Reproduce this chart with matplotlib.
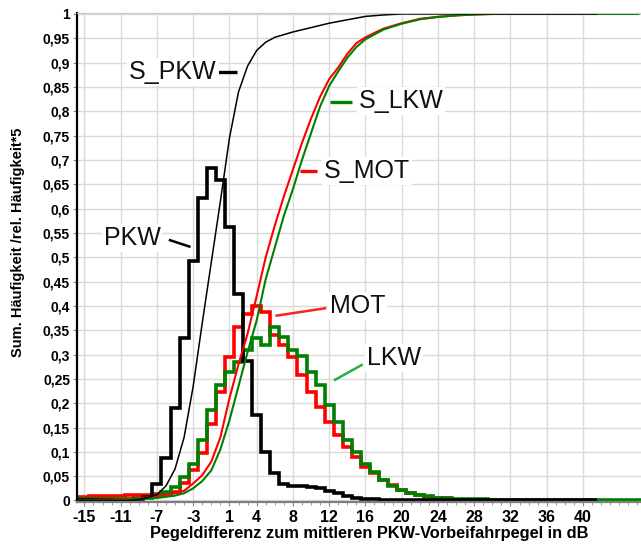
import numpy as np
import matplotlib
matplotlib.use('Agg')
import matplotlib.pyplot as plt

plt.rcParams['font.family'] = ['Liberation Sans', 'DejaVu Sans']

# ------------------------------------------------------------
# Daten
# ------------------------------------------------------------
# Klassenmitten in dB (Klassenbreite 1 dB)
bins_pkw = np.arange(-16, 42)
bins_mot = np.arange(-16, 26)
bins_lkw = np.arange(-16, 47)

# rel. Häufigkeit * 5
h_pkw = [0.0, 0.0, 0.0, 0.0, 0.0, 0.001, 0.002, 0.004, 0.008, 0.034,
         0.088, 0.19, 0.334, 0.492, 0.622, 0.684, 0.658, 0.562, 0.425, 0.286,
         0.176, 0.10, 0.056, 0.033, 0.030, 0.029, 0.028, 0.025, 0.020, 0.015,
         0.010, 0.006, 0.004, 0.003, 0.002, 0.002, 0.001, 0.001, 0.0, 0.0,
         0.0, 0.0, 0.0, 0.0, 0.0, 0.0, 0.0, 0.0, 0.0, 0.0,
         0.0, 0.0, 0.0, 0.0, 0.0, 0.0, 0.0, 0.0]
h_mot = [0.008, 0.008, 0.009, 0.009, 0.010, 0.010, 0.011, 0.012, 0.012, 0.013,
         0.014, 0.018, 0.035, 0.063, 0.097, 0.158, 0.224, 0.295, 0.357, 0.383,
         0.40, 0.388, 0.34, 0.32, 0.295, 0.258, 0.223, 0.193, 0.162, 0.134,
         0.11, 0.09, 0.069, 0.056, 0.043, 0.032, 0.022, 0.016, 0.011, 0.008,
         0.006, 0.005]
h_lkw = [0.004, 0.004, 0.004, 0.004, 0.004, 0.004, 0.004, 0.005, 0.006, 0.010,
         0.018, 0.027, 0.049, 0.076, 0.124, 0.186, 0.237, 0.265, 0.285, 0.31,
         0.333, 0.319, 0.357, 0.336, 0.31, 0.297, 0.265, 0.237, 0.196, 0.162,
         0.124, 0.10, 0.076, 0.059, 0.042, 0.030, 0.022, 0.015, 0.011, 0.009,
         0.006, 0.005, 0.004, 0.004, 0.003, 0.003, 0.002, 0.002, 0.002, 0.001,
         0.001, 0.001, 0.001, 0.0, 0.0, 0.0, 0.0, 0.0, 0.0, 0.0,
         0.0, 0.0, 0.0]

# Summenhäufigkeiten
s_pkw_x = [-16, -10, -9, -8, -7, -6, -5, -4, -3, -2, -1, 0, 1, 2, 3, 4, 5, 6,
           8, 10, 12, 14, 16, 18, 20, 41.5]
s_pkw_y = [0.0, 0.0, 0.002, 0.006, 0.012, 0.03, 0.065, 0.13, 0.235, 0.365,
           0.49, 0.615, 0.745, 0.84, 0.893, 0.925, 0.942, 0.952, 0.963, 0.972,
           0.981, 0.988, 0.995, 0.998, 1.0, 1.0]
s_mot_x = [-16, -12, -9, -7, -5, -4, -3, -2, -1, 0, 1, 2, 3, 4, 5, 6, 7, 8, 9,
           10, 11, 12, 13, 14, 15, 16, 18, 20, 22, 24, 26, 28, 30, 41.5]
s_mot_y = [0.0, 0.002, 0.005, 0.008, 0.015, 0.02, 0.035, 0.052, 0.08, 0.13,
           0.21, 0.28, 0.343, 0.42, 0.50, 0.565, 0.625, 0.68, 0.735, 0.785,
           0.83, 0.866, 0.89, 0.918, 0.94, 0.952, 0.97, 0.981, 0.99, 0.994,
           0.997, 0.999, 1.0, 1.0]
s_lkw_x = [-16, -12, -9, -7, -5, -4, -3, -2, -1, 0, 1, 2, 3, 4, 5, 6, 7, 8, 9,
           10, 11, 12, 13, 14, 15, 16, 18, 20, 22, 24, 26, 28, 30, 46.1]
s_lkw_y = [0.0, 0.001, 0.003, 0.005, 0.01, 0.015, 0.025, 0.04, 0.062, 0.105,
           0.165, 0.235, 0.305, 0.37, 0.455, 0.52, 0.585, 0.64, 0.70, 0.755,
           0.81, 0.852, 0.882, 0.91, 0.932, 0.948, 0.968, 0.98, 0.989, 0.994,
           0.997, 0.999, 1.0, 1.0]

xticks = [-15, -11, -7, -3, 1, 4, 8, 12, 16, 20, 24, 28, 32, 36, 40]
yticks = np.round(np.arange(0, 1.0001, 0.05), 2)


def kanten(mitten):
    return np.append(mitten - 0.5, mitten[-1] + 0.5)


def komma(v):
    if v in (0, 1):
        return str(int(v))
    return f'{v:g}'.replace('.', ',')


# ------------------------------------------------------------
# Grafik
# ------------------------------------------------------------
fig = plt.figure(figsize=(6.41, 5.44), dpi=100)
ax = fig.add_axes([0.1201, 0.0773, 0.8799, 0.8997])

ax.set_xlim(-15.82, 46.4)
ax.set_ylim(-0.003, 1.003)

ax.set_xticks(xticks)
ax.set_xticklabels([str(t) for t in xticks])
ax.set_xticks(np.arange(-15, 47), minor=True)
ax.set_yticks(yticks)
ax.set_yticklabels([komma(v) for v in yticks])
ax.grid(True, which='major', color='#dadada', lw=1)
ax.set_axisbelow(True)

ax.tick_params(axis='x', which='major', labelsize=11.5, length=3, color='#888888', pad=3)
ax.tick_params(axis='x', which='minor', length=2, color='#888888')
ax.tick_params(axis='y', labelsize=10, length=3, color='#888888', pad=2)
for lab in ax.get_xticklabels() + ax.get_yticklabels():
    lab.set_fontweight('bold')

ax.spines['right'].set_visible(False)
ax.spines['top'].set_color('#c8c8c8')
ax.spines['left'].set_color('black')
ax.spines['left'].set_linewidth(1.6)
ax.spines['bottom'].set_color('#7f7f7f')
ax.spines['bottom'].set_linewidth(1.6)

# Histogramme
ax.stairs(h_mot, kanten(bins_mot), color='#ff0000', lw=2.6, baseline=None)
ax.stairs(h_lkw, kanten(bins_lkw), color='#008000', lw=2.6, baseline=None)
ax.stairs(h_pkw, kanten(bins_pkw), color='black', lw=2.6, baseline=None)

# Summenkurven
ax.plot(s_mot_x, s_mot_y, color='#ff0000', lw=1.5)
ax.plot(s_lkw_x, s_lkw_y, color='#008000', lw=1.5)
ax.plot(s_pkw_x, s_pkw_y, color='black', lw=1.1)

ax.set_xlabel('Pegeldifferenz zum mittleren PKW-Vorbeifahrpegel in dB',
              fontsize=11.8, fontweight='bold')
ax.set_ylabel('Sum. Häufigkeit /rel. Häufigkeit*5', fontsize=10.5, fontweight='bold')
ax.xaxis.set_label_coords(0.519, -0.049)
ax.yaxis.set_label_coords(-0.092, 0.531)

# Beschriftungen mit Hinweislinien
box = dict(facecolor='white', edgecolor='none', pad=1.5)
lab_style = dict(fontsize=18, ha='center', va='center', bbox=box, color='#111111')

ax.text(-5.23, 0.880, 'S_PKW', **lab_style)
ax.plot([-0.38, 1.83], [0.881, 0.881], color='black', lw=2.4, solid_capstyle='butt')

ax.text(-9.75, 0.540, 'PKW', **lab_style)
ax.plot([-5.56, -3.43], [0.535, 0.522], color='black', lw=1.8)

ax.text(19.92, 0.821, 'S_LKW', **lab_style)
ax.plot([12.09, 14.48], [0.820, 0.820], color='#008000', lw=2.4, solid_capstyle='butt')

ax.text(16.17, 0.677, 'S_MOT', **lab_style)
ax.plot([8.78, 10.62], [0.678, 0.678], color='#ff0000', lw=2.4, solid_capstyle='butt')

ax.text(15.12, 0.400, 'MOT', **lab_style)
ax.plot([6.21, 11.54], [0.380, 0.395], color='#ff2020', lw=1.8)

ax.text(19.15, 0.293, 'LKW', **lab_style)
ax.plot([12.64, 15.59], [0.248, 0.2785], color='#22b14c', lw=1.8)

fig.savefig('out.png', dpi=100)
